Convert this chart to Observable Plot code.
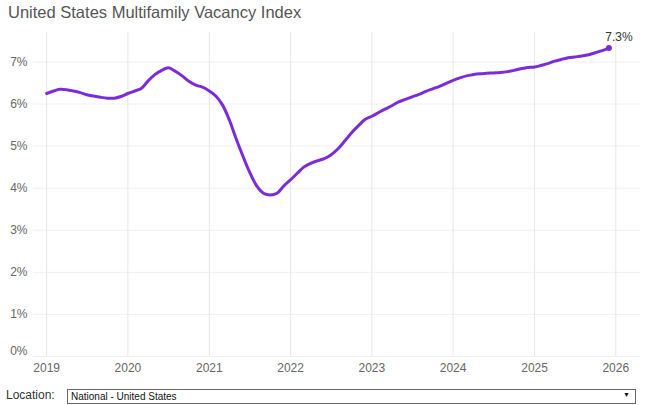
<!DOCTYPE html>
<html>
<head>
<meta charset="utf-8">
<script src="https://cdn.jsdelivr.net/npm/d3@7"></script>
<script src="https://cdn.jsdelivr.net/npm/@observablehq/plot@0.6"></script>
<style>
  html, body { margin: 0; padding: 0; background: #fff; }
  body { width: 650px; height: 405px; overflow: hidden; font-family: "Liberation Sans", Arial, sans-serif; position: relative; }
  #title { position: absolute; left: 8px; top: 3px; font-size: 16.5px; color: #555; white-space: nowrap; }
  #chart { position: absolute; left: 0; top: 28px; }
  #loc { position: absolute; left: 6px; top: 388px; font-size: 12px; color: #333; }
  #box { position: absolute; left: 67px; top: 389px; width: 569px; height: 15px; border: 1px solid #666; font-size: 10px; color: #111; box-sizing: border-box; }
  #box span.t { position: absolute; left: 3px; top: 1px; }
  #box span.a { position: absolute; right: 5px; top: 1px; font-size: 7px; }
</style>
</head>
<body>
<div id="title">United States Multifamily Vacancy Index</div>
<div id="chart"></div>
<div id="loc">Location:</div>
<div id="box"><span class="t">National - United States</span><span class="a">▼</span></div>
<script>
// Monthly vacancy (%), Jan 2019 .. Dec 2025
const startYear = 2019;
const vacancy = [
  6.25, 6.31, 6.35, 6.34, 6.31, 6.27, 6.22, 6.19, 6.16, 6.14, 6.14, 6.18, // 2019
  6.25, 6.31, 6.37, 6.55, 6.70, 6.80, 6.86, 6.78, 6.67, 6.54, 6.45, 6.40, // 2020
  6.31, 6.18, 5.98, 5.62, 5.18, 4.76, 4.38, 4.06, 3.88, 3.84, 3.88, 4.05, // 2021
  4.20, 4.36, 4.50, 4.59, 4.65, 4.70, 4.79, 4.93, 5.12, 5.31, 5.48, 5.63, // 2022
  5.71, 5.80, 5.88, 5.96, 6.05, 6.11, 6.17, 6.23, 6.30, 6.36, 6.42, 6.49, // 2023
  6.56, 6.62, 6.67, 6.70, 6.72, 6.73, 6.74, 6.75, 6.77, 6.80, 6.84, 6.87, // 2024
  6.88, 6.92, 6.96, 7.02, 7.06, 7.10, 7.12, 7.14, 7.17, 7.22, 7.27, 7.33  // 2025
];
const yearTicks = [2019, 2020, 2021, 2022, 2023, 2024, 2025, 2026];
const pctTicks = [0, 1, 2, 3, 4, 5, 6, 7];
const lastLabel = "7.3%";

const data = vacancy.map((v, i) => ({
  date: new Date(startYear + Math.floor(i / 12), i % 12, 1),
  value: v
}));
const last = data[data.length - 1];
const tickDates = yearTicks.map(y => new Date(y, 0, 1));

const purple = "#7b2cd9";
const fmt = d => d + "%";

const chart = Plot.plot({
  width: 650,
  height: 352,
  marginLeft: 33,
  marginRight: 10,
  marginTop: 4,
  marginBottom: 24,
  style: { fontFamily: "'Liberation Sans', Arial, sans-serif", fontSize: "12px", color: "#666", background: "#fff" },
  x: { type: "time", domain: [new Date(2018, 10, 3), new Date(2026, 3, 22)], label: null },
  y: { domain: [0, 7.7], label: null },
  marks: [
    Plot.ruleY(pctTicks, { stroke: "#f0f0f0", strokeWidth: 1 }),
    Plot.ruleX(tickDates, { stroke: "#e6e6e6", strokeWidth: 1 }),
    Plot.axisX({ ticks: tickDates, tickFormat: d3.timeFormat("%Y"), tickSize: 0, tickPadding: 7, label: null }),
    Plot.axisY({ ticks: pctTicks.filter(t => t > 0), tickFormat: fmt, tickSize: 0, tickPadding: 6, label: null }),
    Plot.axisY({ ticks: pctTicks.filter(t => t === 0), tickFormat: fmt, tickSize: 0, tickPadding: 6, dy: -5, label: null }),
    Plot.line(data, { x: "date", y: "value", stroke: purple, strokeWidth: 3, curve: "catmull-rom" }),
    Plot.dot([last], { x: "date", y: "value", fill: purple, r: 3 }),
    Plot.text([last], { x: "date", y: "value", text: () => lastLabel, dx: 10, dy: -11, fill: "#333", fontSize: 12 })
  ]
});
document.getElementById("chart").appendChild(chart);
</script>
</body>
</html>
